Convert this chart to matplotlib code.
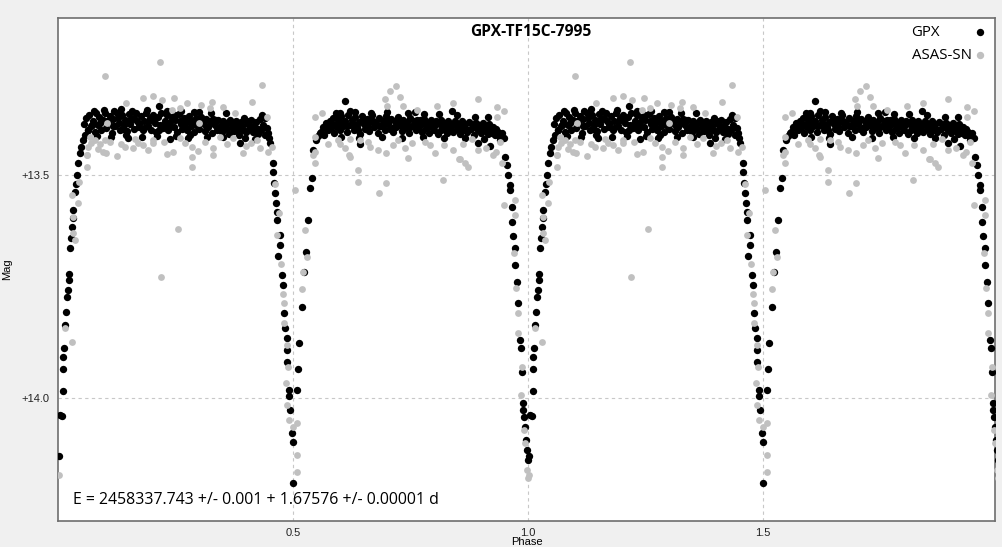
"""Curva de luz em fase: GPX x ASAS-SN."""
import numpy as np
import matplotlib
matplotlib.use("Agg")
import matplotlib.pyplot as plt

# --- dados (fase, magnitude), um ciclo; o segundo ciclo e a copia +1 ---

# GPX - saida do minimo primario (fase 0)
gpx_egresso_0 = [
    (0.002, 14.130), (0.004, 14.038), (0.009, 14.040), (0.011, 13.984), (0.011, 13.935),
    (0.011, 13.908), (0.013, 13.888), (0.015, 13.836), (0.017, 13.807), (0.019, 13.774),
    (0.021, 13.758), (0.023, 13.735), (0.024, 13.722), (0.026, 13.664), (0.028, 13.641),
    (0.030, 13.617), (0.032, 13.578), (0.032, 13.596), (0.036, 13.538), (0.038, 13.520),
    (0.041, 13.500), (0.043, 13.473), (0.047, 13.451), (0.049, 13.437), (0.053, 13.422),
    (0.057, 13.410), (0.064, 13.399), (0.072, 13.388),
]

# GPX - primeiro patamar
gpx_patamar_1 = [
    (0.056, 13.385), (0.060, 13.372), (0.063, 13.398), (0.067, 13.366), (0.070, 13.390),
    (0.074, 13.378), (0.078, 13.404), (0.081, 13.362), (0.085, 13.388), (0.088, 13.370),
    (0.092, 13.400), (0.096, 13.376), (0.099, 13.362), (0.103, 13.394), (0.107, 13.382),
    (0.110, 13.368), (0.114, 13.405), (0.118, 13.374), (0.121, 13.390), (0.125, 13.360),
    (0.129, 13.384), (0.132, 13.398), (0.136, 13.366), (0.140, 13.388), (0.143, 13.376),
    (0.147, 13.402), (0.151, 13.364), (0.154, 13.386), (0.158, 13.374), (0.162, 13.396),
    (0.165, 13.360), (0.169, 13.380), (0.173, 13.392), (0.176, 13.368), (0.180, 13.400),
    (0.184, 13.378), (0.187, 13.362), (0.191, 13.390), (0.195, 13.372), (0.198, 13.398),
    (0.202, 13.366), (0.206, 13.384), (0.209, 13.404), (0.213, 13.370), (0.217, 13.388),
    (0.220, 13.362), (0.224, 13.394), (0.228, 13.378), (0.231, 13.366), (0.235, 13.400),
    (0.239, 13.382), (0.242, 13.370), (0.246, 13.392), (0.250, 13.376), (0.253, 13.404),
    (0.257, 13.364), (0.261, 13.386), (0.264, 13.396), (0.268, 13.372), (0.272, 13.382),
    (0.275, 13.400), (0.279, 13.368), (0.283, 13.390), (0.286, 13.378), (0.290, 13.404),
    (0.294, 13.372), (0.297, 13.386), (0.301, 13.396), (0.305, 13.370), (0.308, 13.384),
    (0.312, 13.402), (0.316, 13.374), (0.319, 13.392), (0.323, 13.380), (0.327, 13.406),
    (0.330, 13.374), (0.334, 13.388), (0.338, 13.398), (0.341, 13.376), (0.345, 13.392),
    (0.349, 13.404), (0.352, 13.378), (0.356, 13.394), (0.360, 13.384), (0.363, 13.408),
    (0.367, 13.376), (0.371, 13.392), (0.374, 13.402), (0.378, 13.380), (0.382, 13.396),
    (0.385, 13.410), (0.389, 13.382), (0.393, 13.398), (0.396, 13.372), (0.400, 13.404),
    (0.404, 13.386), (0.407, 13.396), (0.411, 13.376), (0.415, 13.404), (0.418, 13.390),
    (0.422, 13.382), (0.426, 13.408), (0.429, 13.374), (0.433, 13.398), (0.434, 13.366),
    (0.437, 13.388), (0.440, 13.372), (0.441, 13.410), (0.444, 13.394), (0.446, 13.405),
    (0.090, 13.384), (0.105, 13.378), (0.117, 13.390), (0.128, 13.372), (0.139, 13.396),
    (0.150, 13.380), (0.161, 13.372), (0.172, 13.386), (0.183, 13.394), (0.194, 13.380),
    (0.205, 13.372), (0.216, 13.398), (0.227, 13.386), (0.238, 13.392), (0.249, 13.366),
    (0.260, 13.378), (0.271, 13.392), (0.282, 13.380), (0.293, 13.388), (0.304, 13.380),
    (0.315, 13.390), (0.326, 13.384), (0.337, 13.376), (0.348, 13.388), (0.359, 13.396),
    (0.370, 13.384), (0.381, 13.388), (0.392, 13.390), (0.403, 13.380), (0.414, 13.392),
    (0.425, 13.396),
    (0.077, 13.356), (0.097, 13.354), (0.119, 13.357), (0.157, 13.356), (0.190, 13.355),
    (0.233, 13.357), (0.262, 13.356), (0.289, 13.358), (0.325, 13.360), (0.358, 13.362),
    (0.084, 13.412), (0.112, 13.414), (0.145, 13.411), (0.178, 13.414), (0.211, 13.412),
    (0.252, 13.413), (0.281, 13.411), (0.318, 13.414), (0.352, 13.415), (0.398, 13.416),
    (0.134, 13.352), (0.215, 13.346), (0.149, 13.418), (0.238, 13.420), (0.277, 13.418),
    (0.387, 13.428), (0.300, 13.358), (0.420, 13.420),
]

# GPX - minimo secundario (fase 0.5)
gpx_minimo_05 = [
    (0.448, 13.418), (0.451, 13.428), (0.457, 13.473), (0.457, 13.493), (0.460, 13.518),
    (0.462, 13.540), (0.464, 13.563), (0.465, 13.583), (0.466, 13.601), (0.472, 13.635),
    (0.472, 13.657), (0.468, 13.682), (0.477, 13.724), (0.479, 13.747), (0.481, 13.809),
    (0.483, 13.843), (0.487, 13.865), (0.487, 13.892), (0.487, 13.919), (0.491, 13.982),
    (0.491, 13.995), (0.494, 14.027), (0.498, 14.078), (0.500, 14.099), (0.500, 14.191),
    (0.509, 13.982), (0.511, 13.935), (0.513, 13.877), (0.519, 13.796), (0.523, 13.717),
    (0.528, 13.673), (0.532, 13.601), (0.536, 13.529), (0.540, 13.507), (0.543, 13.444),
    (0.549, 13.422), (0.553, 13.412), (0.557, 13.406),
]

# GPX - segundo patamar
gpx_patamar_2 = [
    (0.560, 13.404), (0.563, 13.392), (0.567, 13.410), (0.570, 13.384), (0.574, 13.400),
    (0.578, 13.378), (0.581, 13.394), (0.585, 13.372), (0.588, 13.406), (0.592, 13.386),
    (0.596, 13.374), (0.599, 13.398), (0.603, 13.368), (0.607, 13.390), (0.610, 13.380),
    (0.614, 13.404), (0.618, 13.366), (0.621, 13.388), (0.625, 13.376), (0.629, 13.400),
    (0.632, 13.370), (0.636, 13.392), (0.640, 13.382), (0.643, 13.408), (0.647, 13.368),
    (0.651, 13.386), (0.654, 13.396), (0.658, 13.374), (0.662, 13.402), (0.665, 13.380),
    (0.669, 13.366), (0.673, 13.392), (0.676, 13.384), (0.680, 13.406), (0.684, 13.372),
    (0.687, 13.390), (0.691, 13.378), (0.695, 13.400), (0.698, 13.368), (0.702, 13.386),
    (0.706, 13.396), (0.709, 13.374), (0.713, 13.404), (0.717, 13.380), (0.720, 13.392),
    (0.724, 13.370), (0.728, 13.388), (0.731, 13.402), (0.735, 13.376), (0.739, 13.394),
    (0.742, 13.382), (0.746, 13.406), (0.750, 13.372), (0.753, 13.390), (0.757, 13.380),
    (0.761, 13.400), (0.764, 13.376), (0.768, 13.392), (0.772, 13.384), (0.775, 13.404),
    (0.779, 13.374), (0.783, 13.394), (0.786, 13.382), (0.790, 13.406), (0.794, 13.376),
    (0.797, 13.390), (0.801, 13.398), (0.805, 13.380), (0.808, 13.408), (0.812, 13.386),
    (0.816, 13.376), (0.819, 13.396), (0.823, 13.384), (0.827, 13.406), (0.830, 13.380),
    (0.834, 13.394), (0.838, 13.386), (0.841, 13.404), (0.845, 13.378), (0.849, 13.396),
    (0.852, 13.388), (0.856, 13.408), (0.860, 13.380), (0.863, 13.398), (0.867, 13.386),
    (0.871, 13.404), (0.874, 13.382), (0.878, 13.396), (0.882, 13.390), (0.885, 13.410),
    (0.889, 13.384), (0.893, 13.400), (0.896, 13.388), (0.900, 13.406), (0.904, 13.384),
    (0.907, 13.398), (0.911, 13.390), (0.915, 13.408), (0.918, 13.386), (0.922, 13.400),
    (0.926, 13.392), (0.929, 13.410), (0.933, 13.396), (0.937, 13.404), (0.940, 13.414),
    (0.944, 13.406), (0.948, 13.418),
    (0.572, 13.396), (0.583, 13.388), (0.594, 13.392), (0.605, 13.384), (0.616, 13.390),
    (0.627, 13.386), (0.638, 13.398), (0.649, 13.378), (0.660, 13.390), (0.671, 13.380),
    (0.682, 13.390), (0.693, 13.386), (0.704, 13.378), (0.715, 13.392), (0.726, 13.380),
    (0.737, 13.386), (0.748, 13.392), (0.759, 13.388), (0.770, 13.376), (0.781, 13.386),
    (0.792, 13.390), (0.803, 13.388), (0.814, 13.398), (0.825, 13.392), (0.836, 13.398),
    (0.847, 13.388), (0.858, 13.394), (0.869, 13.396), (0.880, 13.386), (0.891, 13.394),
    (0.902, 13.396), (0.913, 13.398), (0.924, 13.406),
    (0.601, 13.360), (0.633, 13.358), (0.667, 13.361), (0.701, 13.359), (0.744, 13.362),
    (0.778, 13.363), (0.811, 13.364), (0.848, 13.366), (0.602, 13.414), (0.641, 13.416),
    (0.689, 13.414), (0.733, 13.416), (0.777, 13.414), (0.821, 13.417), (0.866, 13.418),
    (0.906, 13.420),
    (0.611, 13.334), (0.591, 13.361), (0.596, 13.363), (0.838, 13.357), (0.915, 13.370),
    (0.887, 13.370), (0.643, 13.430), (0.894, 13.428), (0.919, 13.435), (0.760, 13.358),
    (0.622, 13.356),
]

# GPX - entrada no minimo primario (fase 1)
gpx_ingresso_1 = [
    (0.940, 13.422), (0.951, 13.460), (0.955, 13.478), (0.957, 13.500), (0.962, 13.522),
    (0.962, 13.534), (0.966, 13.572), (0.966, 13.605), (0.968, 13.637), (0.972, 13.664),
    (0.972, 13.702), (0.977, 13.740), (0.979, 13.787), (0.983, 13.870), (0.985, 13.888),
    (0.987, 13.942), (0.989, 14.011), (0.989, 14.027), (0.991, 14.043), (0.994, 14.065),
    (0.996, 14.094), (0.998, 14.117), (0.9995, 14.139),
]

# ASAS-SN - patamares e pontos dispersos
asas_patamares = [
    (0.217, 13.247), (0.100, 13.278), (0.434, 13.298), (0.202, 13.323), (0.181, 13.327),
    (0.247, 13.327), (0.221, 13.332), (0.145, 13.339), (0.274, 13.339), (0.304, 13.343),
    (0.328, 13.336), (0.351, 13.348), (0.413, 13.336), (0.323, 13.350), (0.243, 13.354),
    (0.260, 13.350), (0.377, 13.361), (0.444, 13.370), (0.300, 13.383), (0.104, 13.383),
    (0.064, 13.437), (0.079, 13.422), (0.100, 13.422), (0.102, 13.451), (0.062, 13.455),
    (0.062, 13.482), (0.126, 13.457), (0.143, 13.437), (0.160, 13.439), (0.181, 13.433),
    (0.202, 13.428), (0.232, 13.453), (0.245, 13.448), (0.260, 13.417), (0.285, 13.437),
    (0.285, 13.460), (0.285, 13.482), (0.298, 13.446), (0.330, 13.439), (0.330, 13.455),
    (0.372, 13.417), (0.394, 13.451), (0.400, 13.435), (0.423, 13.422), (0.068, 13.415),
    (0.164, 13.419), (0.202, 13.422), (0.345, 13.415), (0.255, 13.621), (0.219, 13.729),
    (0.070, 13.428), (0.085, 13.442), (0.090, 13.430), (0.095, 13.448), (0.110, 13.425),
    (0.135, 13.430), (0.170, 13.428), (0.192, 13.445), (0.225, 13.426), (0.270, 13.428),
    (0.312, 13.426), (0.360, 13.430), (0.410, 13.428), (0.430, 13.440),
    (0.719, 13.300), (0.706, 13.312), (0.728, 13.325), (0.696, 13.330), (0.734, 13.345),
    (0.700, 13.345), (0.840, 13.339), (0.894, 13.330), (0.806, 13.345), (0.934, 13.348),
    (0.949, 13.357), (0.562, 13.361), (0.547, 13.370), (0.764, 13.354), (0.934, 13.370),
    (0.600, 13.430), (0.621, 13.419), (0.619, 13.455), (0.638, 13.489), (0.638, 13.516),
    (0.683, 13.540), (0.698, 13.518), (0.664, 13.437), (0.681, 13.444), (0.698, 13.451),
    (0.745, 13.462), (0.723, 13.422), (0.791, 13.433), (0.802, 13.451), (0.840, 13.444),
    (0.853, 13.464), (0.866, 13.473), (0.872, 13.482), (0.819, 13.511), (0.862, 13.430),
    (0.894, 13.444), (0.932, 13.448), (0.940, 13.426), (0.547, 13.448), (0.596, 13.422),
    (0.643, 13.422), (0.753, 13.428), (0.621, 13.460), (0.855, 13.464),
    (0.575, 13.430), (0.610, 13.440), (0.660, 13.425), (0.712, 13.432), (0.738, 13.440),
    (0.780, 13.425), (0.822, 13.432), (0.880, 13.420), (0.910, 13.440), (0.925, 13.455),
]

# ASAS-SN - pontos nos eclipses
asas_eclipses = [
    (0.002, 14.173), (0.015, 13.843), (0.030, 13.874), (0.036, 13.646), (0.032, 13.594),
    (0.032, 13.630), (0.043, 13.563), (0.030, 13.545), (0.045, 13.516), (0.062, 13.455),
    (0.447, 13.448), (0.455, 13.437), (0.462, 13.520), (0.470, 13.585), (0.466, 13.635),
    (0.474, 13.700), (0.479, 13.767), (0.481, 13.787), (0.481, 13.832), (0.487, 13.881),
    (0.489, 13.930), (0.485, 13.966), (0.487, 14.016), (0.491, 14.049), (0.500, 14.065),
    (0.509, 14.056), (0.509, 14.128), (0.509, 14.166),
    (0.504, 13.534), (0.526, 13.623), (0.530, 13.684), (0.521, 13.717), (0.519, 13.756),
    (0.547, 13.473), (0.543, 13.455), (0.547, 13.415),
    (0.945, 13.473), (0.949, 13.567), (0.972, 13.556), (0.972, 13.590), (0.970, 13.675),
    (0.974, 13.753), (0.979, 13.809), (0.979, 13.854), (0.987, 13.930), (0.985, 13.993),
    (0.991, 14.072), (0.994, 14.101), (0.998, 14.161), (0.9995, 14.179),
]

titulo = "GPX-TF15C-7995"
efemeride = "E = 2458337.743 +/- 0.001 + 1.67576 +/- 0.00001 d"
series = ["GPX", "ASAS-SN"]
cores = ["black", "#c0c0c0"]

gpx = np.array(gpx_egresso_0 + gpx_patamar_1 + gpx_minimo_05 + gpx_patamar_2 + gpx_ingresso_1)
asas = np.array(asas_patamares + asas_eclipses)

# dois ciclos (fase e fase + 1)
gpx_fase = np.concatenate([gpx[:, 0], gpx[:, 0] + 1])
gpx_mag = np.concatenate([gpx[:, 1], gpx[:, 1]])
asas_fase = np.concatenate([asas[:, 0], asas[:, 0] + 1])
asas_mag = np.concatenate([asas[:, 1], asas[:, 1]])

fig = plt.figure(figsize=(10.03, 5.47), dpi=100, facecolor="#f0f0f0")
ax = fig.add_axes([0.0578, 0.0475, 0.9342, 0.9195])
ax.set_facecolor("white")

ax.scatter(gpx_fase, gpx_mag, s=28, color=cores[0], linewidths=0, zorder=3)
ax.scatter(asas_fase, asas_mag, s=24, color=cores[1], linewidths=0, zorder=4)

ax.set_xlim(0, 1.9936)
ax.set_ylim(14.276, 13.148)

ax.set_xticks([0.5, 1.0, 1.5])
ax.set_xticklabels(["0.5", "1.0", "1.5"])
ax.set_yticks([13.5, 14.0])
ax.set_yticklabels(["+13.5", "+14.0"])
ax.tick_params(length=0, labelsize=8, pad=6, colors="#222222")
ax.tick_params(axis="x", pad=5)
for lbl in ax.get_xticklabels() + ax.get_yticklabels():
    lbl.set_family("Liberation Sans")

ax.grid(True, color="#c8c8c8", linestyle=(0, (3, 3)), linewidth=0.8)
ax.set_axisbelow(True)
for sp in ax.spines.values():
    sp.set_color("#6e6e6e")
    sp.set_linewidth(1.2)

ax.set_xlabel("Phase", fontsize=8, family="Liberation Sans", labelpad=-0.5)
ax.set_ylabel("Mag", fontsize=8, family="Liberation Sans", labelpad=7)

ax.text(0.505, 0.988, titulo, transform=ax.transAxes, ha="center", va="top",
        fontsize=11.2, fontweight="bold", family="Open Sans")
ax.text(0.016, 0.025, efemeride, transform=ax.transAxes, ha="left", va="bottom",
        fontsize=11.4, family="Open Sans")

# legenda: texto alinhado a esquerda, marcador a direita
for i, (nome, cor) in enumerate(zip(series, cores)):
    yl = 0.972 - i * 0.046
    ax.text(0.911, yl, nome, transform=ax.transAxes, ha="left", va="center",
            fontsize=10.8, family="Open Sans")
    ax.plot([0.984], [yl], marker="o", markersize=5.3, color=cor, linestyle="none",
            markeredgewidth=0, transform=ax.transAxes, clip_on=False, zorder=5)

plt.savefig("out.png", dpi=100, facecolor=fig.get_facecolor())
